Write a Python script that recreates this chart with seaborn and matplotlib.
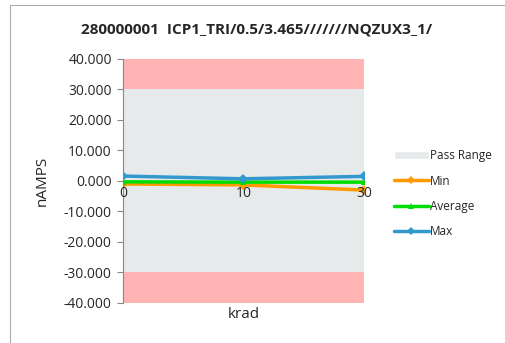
import pandas as pd
import matplotlib
matplotlib.use('Agg')
import matplotlib.pyplot as plt
import seaborn as sns
from matplotlib.patches import Rectangle, Patch

krad = ['0', '10', '30']
min_vals = [-1.0, -1.3, -3.0]
avg_vals = [-0.3, -0.4, -0.4]
max_vals = [1.6, 0.7, 1.5]
pass_low = -30
pass_high = 30
fail_low = -40
fail_high = 40

sns.set_style('white')
plt.rcParams['font.family'] = ['Open Sans', 'DejaVu Sans']

df = pd.DataFrame({
    'x': list(range(len(krad))) * 3,
    'value': min_vals + avg_vals + max_vals,
    'series': ['Min'] * 3 + ['Average'] * 3 + ['Max'] * 3,
})

fig = plt.figure(figsize=(5.06, 3.43), dpi=100)
ax = fig.add_axes([0.243, 0.117, 0.476, 0.711])

# bands: fail above, pass range, fail below
xs = list(range(len(krad)))
ax.fill_between(xs, fail_high, pass_high, color='#FFB3B3', lw=0)
ax.fill_between(xs, pass_high, pass_low, color='#E6EAEA', lw=0)
ax.fill_between(xs, pass_low, fail_low, color='#FFB3B3', lw=0)

palette = {'Min': '#FF9900', 'Average': '#00DD00', 'Max': '#3399CC'}
markers = {'Min': 'D', 'Average': '^', 'Max': 'D'}
sns.lineplot(data=df, x='x', y='value', hue='series', style='series',
             palette=palette, markers=markers, dashes=False, lw=2.5,
             markersize=5, markeredgewidth=0, ax=ax, legend=False)

ax.set_xlim(0, 2)
ax.set_ylim(-40, 40)
ax.set_yticks(range(-40, 41, 10))
ax.set_yticklabels([f'{v:.3f}' for v in range(-40, 41, 10)], fontsize=10)
ax.set_xticks([])
# category labels sit on the zero line
for x, lab in zip(xs, krad):
    ax.annotate(lab, (x, 0), xytext=(0, -4), textcoords='offset points',
                ha='center', va='top', fontsize=10)
ax.tick_params(axis='y', length=4, color='#888888', direction='out', left=True, pad=4)
for s in ['top', 'right', 'bottom']:
    ax.spines[s].set_visible(False)
ax.spines['left'].set_color('#888888')
ax.spines['left'].set_linewidth(0.8)

ax.set_xlabel('krad', fontsize=11, labelpad=3)
ax.set_ylabel('nAMPS', fontsize=11, labelpad=10)
fig.text(0.508, 0.915, '280000001  ICP1_TRI/0.5/3.465///////NQZUX3_1/',
         ha='center', va='center', fontsize=11, fontweight='bold')

handles = [Patch(facecolor='#E6EAEA', label='Pass Range')]
for name in ['Min', 'Average', 'Max']:
    handles.append(plt.Line2D([], [], color=palette[name], lw=2.5, marker=markers[name],
                              markersize=4, markeredgewidth=0, label=name))
fig.legend(handles=handles, loc='center left', bbox_to_anchor=(0.757, 0.435),
           frameon=False, fontsize=8.5, labelspacing=1.05, handlelength=3.0,
           handletextpad=0.05)

fig.add_artist(Rectangle((10 / 506, -0.1), 1.1, 1.1 - 5 / 343, transform=fig.transFigure,
                         fill=False, edgecolor='#AAAAAA', lw=0.8))

fig.savefig('out.png', dpi=100)
